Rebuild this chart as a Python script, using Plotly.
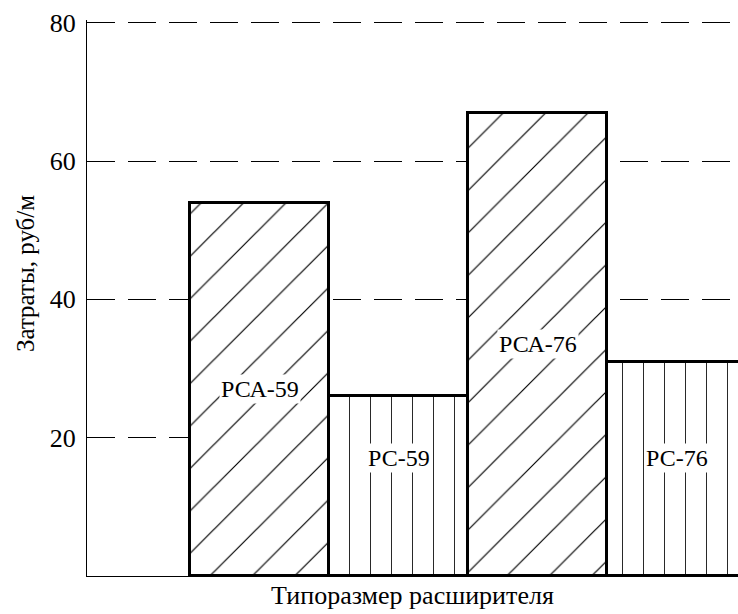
import plotly.graph_objects as go

categories = ["РСА-59", "РС-59", "РСА-76", "РС-76"]
values = [54, 26, 67, 31]
patterns = ["/", "|", "/", "|"]
pattern_sizes = [30, 21, 30, 21]
y_ticks = [20, 40, 60, 80]
title_text = "Затраты (руб/м)"
y_title = "Затраты, руб/м"
x_title = "Типоразмер расширителя"

FONT = "Times New Roman, Liberation Serif, DejaVu Serif, serif"

fig = go.Figure()
fig.add_trace(go.Bar(
    x=categories,
    y=values,
    width=1,
    marker=dict(
        color="white",
        line=dict(color="black", width=3),
        pattern=dict(shape=patterns, size=pattern_sizes, solidity=0.04,
                     fgcolor="black", bgcolor="white", fillmode="replace"),
    ),
    showlegend=False,
    hoverinfo="x+y",
))

for c, v in zip(categories, values):
    fig.add_annotation(
        x=c, y=max(v / 2, 17), text=c, showarrow=False,
        font=dict(family=FONT, size=24, color="black"),
        bgcolor="white", borderpad=1,
    )

# title, mostly cut off by the top edge as in the reference
fig.add_annotation(
    xref="paper", yref="paper", x=0.39, y=1.0, yshift=19,
    xanchor="center", yanchor="bottom",
    text=title_text, showarrow=False,
    font=dict(family=FONT, size=24, color="black"),
)

# y-axis title
fig.add_annotation(
    xref="paper", yref="paper", x=0, y=0.543, xshift=-62,
    xanchor="center", yanchor="middle", textangle=-90,
    text=y_title, showarrow=False,
    font=dict(family=FONT, size=25, color="black"),
)

fig.update_layout(
    width=738, height=614,
    margin=dict(l=87, r=0, t=20, b=38),
    paper_bgcolor="white", plot_bgcolor="white",
    bargap=0,
    font=dict(family=FONT, color="black"),
    xaxis=dict(
        range=[-1.241, 3.442],
        showticklabels=False, ticks="",
        showgrid=False, zeroline=False,
        showline=True, linecolor="black", linewidth=1,
        title=dict(text=x_title, font=dict(family=FONT, size=26, color="black"), standoff=9),
    ),
    yaxis=dict(
        range=[0, 80.4],
        tickvals=y_ticks,
        ticktext=[str(t) for t in y_ticks],
        tickfont=dict(family=FONT, size=26, color="black"),
        ticks="", ticklabelstandoff=5,
        showgrid=True, gridcolor="black", gridwidth=1, griddash="28px,13px",
        zeroline=False,
        showline=True, linecolor="black", linewidth=1,
    ),
)

fig.write_html("out.html", config={"displayModeBar": False},
               post_script="document.body.style.margin='0';")
